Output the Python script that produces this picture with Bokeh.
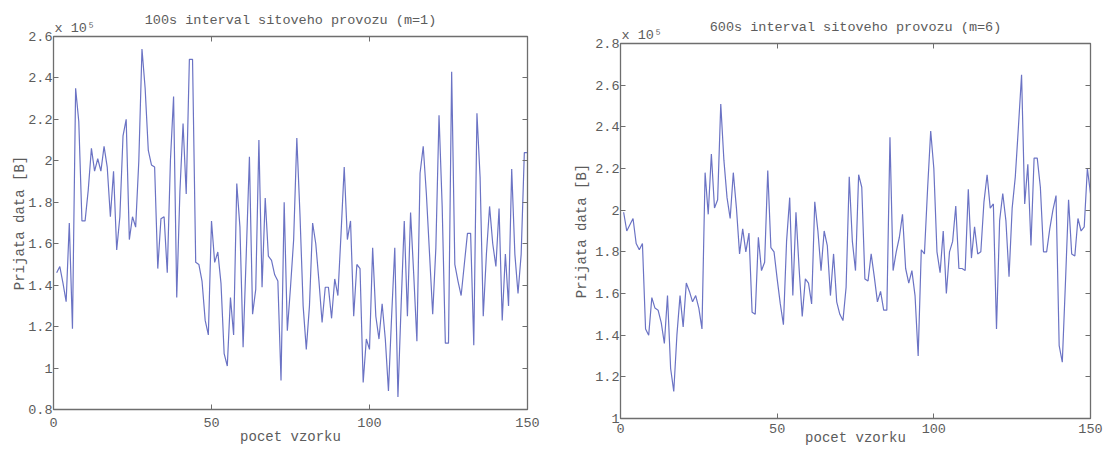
from bokeh.plotting import figure
from bokeh.layouts import row, column
from bokeh.models import (Range1d, FixedTicker, LinearAxis, CustomJSTickFormatter,
                          Title, Spacer)
from bokeh.embed import file_html
from bokeh.resources import INLINE

# ---------------- data ----------------
x_left = list(range(1, 151))
y_left = [
    1.46, 1.49, 1.41, 1.32, 1.70, 1.19, 2.35, 2.19, 1.71, 1.71,
    1.86, 2.06, 1.95, 2.01, 1.95, 2.07, 1.97, 1.73, 1.95, 1.57,
    1.73, 2.12, 2.20, 1.62, 1.73, 1.68, 2.00, 2.54, 2.35, 2.05,
    1.98, 1.97, 1.48, 1.72, 1.73, 1.46, 2.00, 2.31, 1.34, 1.85,
    2.18, 1.84, 2.49, 2.49, 1.51, 1.50, 1.42, 1.23, 1.16, 1.71,
    1.51, 1.56, 1.41, 1.07, 1.01, 1.34, 1.16, 1.89, 1.68, 1.10,
    1.55, 2.02, 1.26, 1.38, 2.10, 1.39, 1.82, 1.54, 1.52, 1.45,
    1.42, 0.94, 1.80, 1.18, 1.39, 1.62, 2.11, 1.74, 1.30, 1.09,
    1.30, 1.70, 1.60, 1.42, 1.22, 1.39, 1.39, 1.24, 1.43, 1.35,
    1.65, 1.97, 1.62, 1.71, 1.25, 1.50, 1.48, 0.93, 1.14, 1.09,
    1.58, 1.25, 1.14, 1.31, 1.14, 0.89, 1.25, 1.58, 0.86, 1.30,
    1.71, 1.25, 1.75, 1.45, 1.13, 1.94, 2.07, 1.84, 1.55, 1.26,
    1.58, 2.22, 1.78, 1.12, 1.12, 2.43, 1.50, 1.42, 1.35, 1.50,
    1.65, 1.65, 1.11, 2.23, 1.92, 1.25, 1.55, 1.78, 1.60, 1.49,
    1.77, 1.23, 1.55, 1.30, 1.96, 1.55, 1.36, 1.55, 2.04, 2.04,
]

x_right = list(range(1, 151))
y_right = [
    1.99, 1.90, 1.93, 1.96, 1.84, 1.81, 1.84, 1.43, 1.40, 1.58,
    1.53, 1.52, 1.46, 1.36, 1.59, 1.24, 1.13, 1.40, 1.59, 1.44,
    1.65, 1.61, 1.56, 1.59, 1.53, 1.43, 2.18, 1.98, 2.27, 2.01,
    2.05, 2.51, 2.24, 2.06, 1.96, 2.18, 2.01, 1.79, 1.91, 1.80,
    1.89, 1.51, 1.50, 1.87, 1.71, 1.75, 2.19, 1.82, 1.80, 1.67,
    1.55, 1.45, 1.85, 2.06, 1.59, 1.99, 1.72, 1.49, 1.67, 1.65,
    1.55, 2.04, 1.90, 1.71, 1.90, 1.83, 1.59, 1.79, 1.56, 1.50,
    1.47, 1.63, 2.16, 1.85, 1.71, 2.17, 2.11, 1.67, 1.66, 1.79,
    1.68, 1.56, 1.61, 1.52, 1.52, 2.35, 1.71, 1.80, 1.87, 1.98,
    1.72, 1.65, 1.71, 1.59, 1.30, 1.81, 1.79, 2.10, 2.38, 2.20,
    1.80, 1.70, 1.90, 1.60, 1.80, 1.85, 2.02, 1.72, 1.72, 1.71,
    2.10, 1.77, 1.92, 1.79, 1.80, 2.04, 2.17, 2.01, 2.03, 1.43,
    1.95, 2.08, 1.95, 1.68, 2.01, 2.16, 2.40, 2.65, 2.03, 2.22,
    1.83, 2.25, 2.25, 2.11, 1.80, 1.80, 1.91, 2.00, 2.07, 1.35,
    1.27, 1.65, 2.05, 1.79, 1.78, 1.96, 1.90, 1.92, 2.20, 2.08,
]

x_ticks = [0, 50, 100, 150]
y_ticks_left = [0.8, 1.0, 1.2, 1.4, 1.6, 1.8, 2.0, 2.2, 2.4, 2.6]
y_ticks_right = [1.0, 1.2, 1.4, 1.6, 1.8, 2.0, 2.2, 2.4, 2.6, 2.8]

title_left = "100s interval sitoveho provozu (m=1)"
title_right = "600s interval sitoveho provozu (m=6)"
x_label = "pocet vzorku"
y_label = "Prijata data [B]"
exp_text = "x 10\u2075"

# ---------------- style ----------------
FONT = "Liberation Mono"
TXT = "#5c5c5c"
AX = "#6e6e6e"
LINE = "#6b73c4"

fmt = CustomJSTickFormatter(code="""
    var s = tick.toFixed(1);
    if (s.endsWith('.0')) s = s.slice(0, -2);
    return s;
""")
blank = CustomJSTickFormatter(code="return '';")


def panel(xs, ys, yticks, title, width, height, bl, br, bt, bb,
          ylab_standoff, xtick_standoff, xlab_standoff):
    p = figure(width=width, height=height,
               x_range=Range1d(0, 150), y_range=Range1d(yticks[0], yticks[-1]),
               output_backend="svg", toolbar_location=None,
               min_border_left=bl, min_border_right=br,
               min_border_top=bt, min_border_bottom=bb,
               background_fill_color="white", border_fill_color="white")
    p.title.text = title
    p.title.text_font = FONT
    p.title.text_font_size = "13.5px"
    p.title.text_font_style = "normal"
    p.title.text_color = TXT
    p.title.align = "center"
    p.title.standoff = -18

    p.xgrid.visible = False
    p.ygrid.visible = False
    p.outline_line_color = AX
    p.outline_line_width = 1.3

    for ax in (p.xaxis[0], p.yaxis[0]):
        ax.major_tick_in = 5
        ax.major_tick_out = 0
        ax.minor_tick_line_color = None
        ax.axis_line_color = AX
        ax.major_tick_line_color = AX
        ax.major_label_text_font = FONT
        ax.major_label_text_font_size = "13.5px"
        ax.major_label_text_color = TXT
        ax.axis_label_text_font = FONT
        ax.axis_label_text_font_size = "14px"
        ax.axis_label_text_font_style = "normal"
        ax.axis_label_text_color = TXT

    p.xaxis.ticker = FixedTicker(ticks=x_ticks)
    p.yaxis.ticker = FixedTicker(ticks=yticks)
    p.yaxis.formatter = fmt
    p.xaxis.axis_label = x_label
    p.yaxis.axis_label = y_label
    p.xaxis.major_label_standoff = xtick_standoff
    p.yaxis.major_label_standoff = 1
    p.xaxis.axis_label_standoff = xlab_standoff
    p.yaxis.axis_label_standoff = ylab_standoff

    # mirror ticks on top and right (box style)
    top = LinearAxis(ticker=FixedTicker(ticks=x_ticks), formatter=blank)
    right = LinearAxis(ticker=FixedTicker(ticks=yticks), formatter=blank)
    for ax in (top, right):
        ax.major_tick_in = 5
        ax.major_tick_out = 0
        ax.minor_tick_line_color = None
        ax.axis_line_color = AX
        ax.major_tick_line_color = AX
        ax.major_label_standoff = 0
        ax.major_label_text_font_size = "1px"
    p.add_layout(top, "above")
    p.add_layout(right, "right")

    # exponent "x 10^5" in the upper-left corner, above the frame
    p.add_layout(Title(text=exp_text, align="left", offset=1, standoff=1,
                       text_font=FONT, text_font_size="13.5px",
                       text_font_style="normal", text_color=TXT), "above")

    p.line(xs, ys, line_color=LINE, line_width=1.2)
    return p


p1 = panel(x_left, y_left, y_ticks_left, title_left, 560, 454,
           53, 33, 36, 45, -3, 8, -1)
p2 = panel(x_right, y_right, y_ticks_right, title_right, 545, 447,
           60, 15, 36, 36, 2, 5, -6)

layout = row(column(p1), column(Spacer(width=545, height=7), p2, spacing=0), spacing=0)
open("out.html", "w").write(file_html(layout, INLINE))
